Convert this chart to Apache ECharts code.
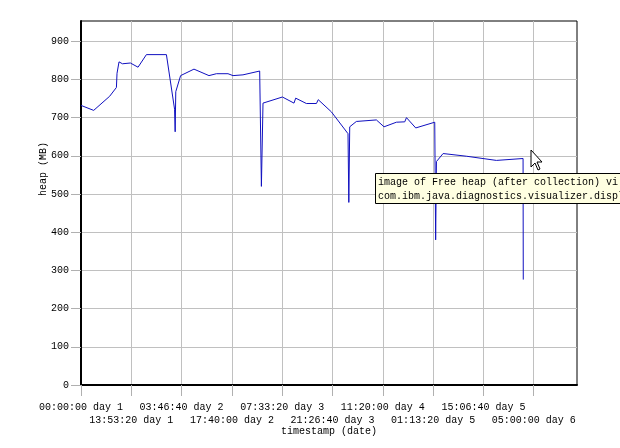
<!DOCTYPE html>
<html>
<head>
<meta charset="utf-8">
<script src="https://cdn.jsdelivr.net/npm/echarts@6/dist/echarts.min.js"></script>
<style>
  html, body { margin: 0; padding: 0; background: #fff; }
  #chart { width: 620px; height: 448px; }
</style>
</head>
<body>
<div id="chart"></div>
<script>
// timestamps in seconds since 00:00:00 day 1
const times = [0, 12600, 28500, 35200, 35800, 37200, 37800, 41200, 49100, 56700,
  65000, 84900, 93000, 93600, 94200, 99000, 112300, 127200, 134600, 146100,
  151100, 161000, 177600, 179300, 180900, 200200, 211700, 213400, 224000, 234000,
  235000, 235800, 248900, 265400, 266200, 267100, 273700, 293600, 301200, 313500,
  321800, 323500, 332700, 351600, 352500, 353300, 359900, 383000, 383800, 384700,
  412900, 439400, 439600]
// free heap after collection (MB)
const heap = [732, 719, 756, 779, 816, 816, 846, 841, 843, 832,
  865, 865, 722, 663, 768, 810, 827, 810, 815, 815,
  810, 812, 822, 520, 738, 754, 738, 751, 737, 737,
  732, 747, 715, 658, 478, 676, 690, 694, 676, 688,
  689, 700, 673, 688, 380, 585, 606, 599, 594, 604,
  588, 593, 276]
const tooltipLines = [
  'image of Free heap (after collection) vi',
  'com.ibm.java.diagnostics.visualizer.displ'
]

const font = 'Liberation Mono'
const pad = n => (n < 10 ? '0' : '') + n

function stamp(t) {
  const day = Math.floor(t / 86400) + 1
  const r = t % 86400
  const h = Math.floor(r / 3600)
  const m = Math.floor((r % 3600) / 60)
  const s = r % 60
  return pad(h) + ':' + pad(m) + ':' + pad(s) + ' day ' + day
}

// labels alternate between two rows: even steps on the first, odd on the second
function rowLabel(row) {
  return v => {
    if (v % 50000 !== 0) return ''
    return (v / 50000) % 2 === row ? stamp(v) : ''
  }
}

const labelStyle = { fontFamily: font, fontSize: 10, color: '#000' }
const chart = echarts.init(document.getElementById('chart'))
const option = {
  animation: false,
  backgroundColor: '#fff',
  grid: {
    left: 81,
    right: 43,
    top: 21,
    bottom: 63,
    show: true,
    borderColor: '#000',
    borderWidth: 1
  },
  xAxis: [{
    type: 'value',
    min: 0,
    max: 493000,
    interval: 50000,
    name: 'timestamp (date)',
    nameLocation: 'middle',
    nameGap: 41,
    nameTextStyle: labelStyle,
    axisLine: { lineStyle: { color: '#000', width: 2 } },
    axisTick: { length: 11, lineStyle: { color: '#b0b0b0' } },
    axisLabel: Object.assign({
      margin: 17.5,
      showMinLabel: true,
      showMaxLabel: false,
      formatter: rowLabel(0)
    }, labelStyle),
    splitLine: { showMaxLine: false, lineStyle: { color: '#c0c0c0', width: 1 } }
  }, {
    type: 'value',
    position: 'bottom',
    min: 0,
    max: 493000,
    interval: 50000,
    axisLine: { show: false },
    axisTick: { show: false },
    splitLine: { show: false },
    axisLabel: Object.assign({
      margin: 30,
      showMinLabel: true,
      showMaxLabel: false,
      formatter: rowLabel(1)
    }, labelStyle)
  }],
  yAxis: {
    type: 'value',
    min: 0,
    max: 953,
    interval: 100,
    axisLine: { show: true, lineStyle: { color: '#000', width: 2 } },
    axisTick: { show: true, length: 10, lineStyle: { color: '#b0b0b0' } },
    axisLabel: Object.assign({
      margin: 12,
      showMaxLabel: false,
      formatter(v) {
        return v % 100 === 0 ? String(v) : ''
      }
    }, labelStyle),
    splitLine: { showMaxLine: false, lineStyle: { color: '#c0c0c0', width: 1 } }
  },
  series: [{
    name: 'heap',
    type: 'line',
    xAxisIndex: 0,
    showSymbol: false,
    lineStyle: { color: '#1010c0', width: 1 },
    data: times.map((t, i) => [t, heap[i]])
  }],
  graphic: [
    {
      type: 'text',
      x: 43,
      y: 169,
      rotation: Math.PI / 2,
      style: {
        text: 'heap (MB)',
        font: '10px ' + font,
        fill: '#000',
        align: 'center',
        verticalAlign: 'middle'
      }
    },
    {
      type: 'rect',
      z: 100,
      shape: { x: 375.5, y: 173.5, width: 260, height: 30 },
      style: { fill: '#ffffe1', stroke: '#000', lineWidth: 1 }
    },
    {
      type: 'text',
      z: 101,
      x: 378,
      y: 182,
      style: { text: tooltipLines[0], font: '10px ' + font, fill: '#000', verticalAlign: 'middle' }
    },
    {
      type: 'text',
      z: 101,
      x: 378,
      y: 196,
      style: { text: tooltipLines[1], font: '10px ' + font, fill: '#000', verticalAlign: 'middle' }
    },
    {
      // mouse pointer
      type: 'polygon',
      z: 102,
      x: 531,
      y: 150,
      shape: { points: [[0, 0], [0, 17], [4, 13], [7, 20], [9, 19], [6, 12], [11, 12]] },
      style: { fill: '#fff', stroke: '#000', lineWidth: 1 }
    }
  ]
}
chart.setOption(option)
</script>
</body>
</html>
